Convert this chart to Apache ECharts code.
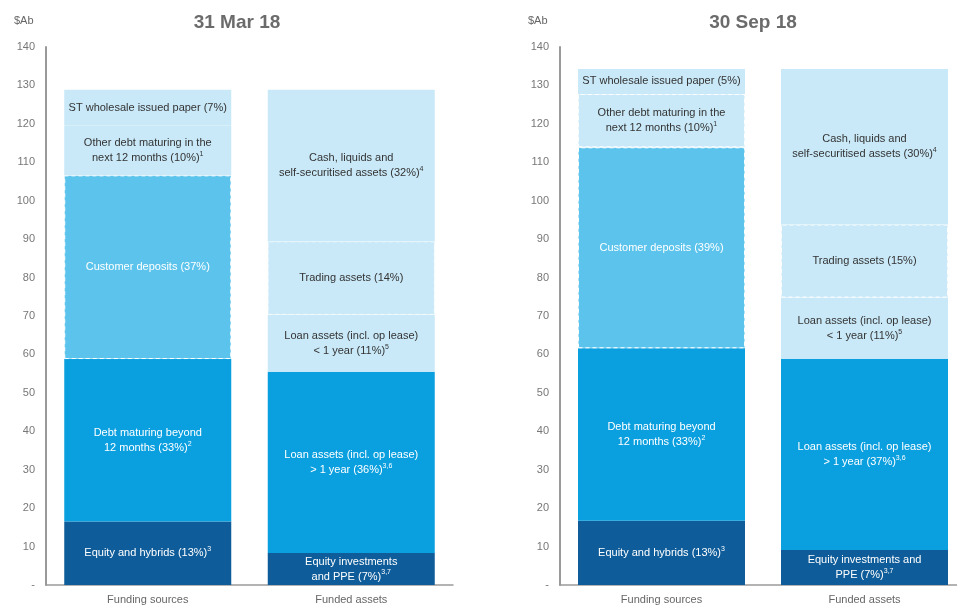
<!DOCTYPE html>
<html>
<head>
<meta charset="utf-8">
<script src="https://cdn.jsdelivr.net/npm/echarts@6/dist/echarts.min.js"></script>
<style>
  html, body { margin: 0; padding: 0; background: #fff; }
  #chart { width: 957px; height: 607px; }
</style>
</head>
<body>
<div id="chart"></div>
<script>
// categories shared by both panels
const categories = ['Funding sources', 'Funded assets']
const panelTitles = ['31 Mar 18', '30 Sep 18']

// segment values ($Ab), bottom to top
const fundingMar = [16.5, 42.3, 47.8, 13.0, 9.3]
const assetsMar = [8.3, 47.2, 14.8, 19.1, 39.5]
const fundingSep = [16.7, 44.9, 52.3, 13.9, 6.5]
const assetsSep = [9.1, 49.8, 15.9, 19.0, 40.5]

// segment labels, bottom to top ({s|..} = footnote)
const fundingLabelsMar = [
    'Equity and hybrids (13%){s|3}',
    'Debt maturing beyond\n12 months (33%){s|2}',
    'Customer deposits (37%)',
    'Other debt maturing in the\nnext 12 months (10%){s|1}',
    'ST wholesale issued paper (7%)'
]
const assetLabelsMar = [
    'Equity investments\nand PPE (7%){s|3,7}',
    'Loan assets (incl. op lease)\n> 1 year (36%){s|3,6}',
    'Loan assets (incl. op lease)\n< 1 year (11%){s|5}',
    'Trading assets (14%)',
    'Cash, liquids and\nself-securitised assets (32%){s|4}'
]
const fundingLabelsSep = [
    'Equity and hybrids (13%){s|3}',
    'Debt maturing beyond\n12 months (33%){s|2}',
    'Customer deposits (39%)',
    'Other debt maturing in the\nnext 12 months (10%){s|1}',
    'ST wholesale issued paper (5%)'
]
const assetLabelsSep = [
    'Equity investments and\nPPE (7%){s|3,7}',
    'Loan assets (incl. op lease)\n> 1 year (37%){s|3,6}',
    'Loan assets (incl. op lease)\n< 1 year (11%){s|5}',
    'Trading assets (15%)',
    'Cash, liquids and\nself-securitised assets (30%){s|4}'
]

const navy = '#0e5c99'
const mid = '#0a9fdf'
const sky = '#5cc4ec'
const pale = '#c9e9f8'
const fundingColors = [navy, mid, sky, pale, pale]
const assetColors = [navy, mid, pale, pale, pale]

// which segments draw a white dashed outline: [panel][bar][layer]
const dashed = [
    [[0, 0, 1, 0, 0], [0, 0, 0, 0.5, 0]],
    [[0, 0, 1, 1, 0], [0, 0, 0, 1, 0]]
]

const font = '"Liberation Sans", Arial, sans-serif'

function textColor(c) {
    return c === pale ? '#333' : '#fff'
}

function item(v, text, color, dash) {
    const tc = textColor(color)
    return {
        value: v,
        itemStyle: {
            color: color,
            borderColor: dash ? 'rgba(255,255,255,' + dash + ')' : color,
            borderWidth: dash ? 1 : 0,
            borderType: [4, 3]
        },
        label: {
            formatter: text,
            color: tc,
            rich: {
                s: { fontSize: 7, color: tc, verticalAlign: 'top', lineHeight: 14, fontFamily: font }
            }
        }
    }
}

const panels = [
    [fundingMar, assetsMar, fundingLabelsMar, assetLabelsMar],
    [fundingSep, assetsSep, fundingLabelsSep, assetLabelsSep]
]

let series = []
for (let p = 0; p < 2; p++) {
    const [fv, av, fl, al] = panels[p]
    for (let k = 0; k < 5; k++) {
        series.push({
            type: 'bar',
            stack: 'p' + p,
            xAxisIndex: p,
            yAxisIndex: p,
            barWidth: 167,
            silent: true,
            label: {
                show: true,
                position: 'inside',
                fontSize: 11,
                lineHeight: 15,
                fontFamily: font,
                align: 'center'
            },
            data: [
                item(fv[k], fl[k], fundingColors[k], dashed[p][0][k]),
                item(av[k], al[k], assetColors[k], dashed[p][1][k])
            ]
        })
    }
}

function xAxis(i) {
    return {
        type: 'category',
        gridIndex: i,
        data: categories,
        axisLine: { lineStyle: { color: '#9a9a9a', width: 1.5 } },
        axisTick: { show: false },
        axisLabel: { color: '#666', fontSize: 11, margin: 9, fontFamily: font }
    }
}
function yAxis(i) {
    return {
        type: 'value',
        gridIndex: i,
        min: 0,
        max: 140,
        interval: 10,
        axisLine: { show: true, lineStyle: { color: '#9a9a9a', width: 2 } },
        axisTick: { show: false },
        splitLine: { show: false },
        axisLabel: {
            color: '#777',
            fontSize: 11,
            margin: 11,
            fontFamily: font,
            formatter: function (v) { return v === 0 ? '-' : v }
        }
    }
}

const option = {
    animation: false,
    backgroundColor: '#fff',
    title: [
        { text: panelTitles[0], left: 232, top: 8, textAlign: 'center',
          textStyle: { fontSize: 19, fontWeight: 'bold', color: '#6b6b6b', fontFamily: font } },
        { text: panelTitles[1], left: 748, top: 8, textAlign: 'center',
          textStyle: { fontSize: 19, fontWeight: 'bold', color: '#6b6b6b', fontFamily: font } },
        { text: '$Ab', left: 9, top: 10, textStyle: { fontSize: 11, fontWeight: 'normal', color: '#666', fontFamily: font } },
        { text: '$Ab', left: 523, top: 10, textStyle: { fontSize: 11, fontWeight: 'normal', color: '#666', fontFamily: font } }
    ],
    grid: [
        { left: 46, top: 47, width: 407, height: 538, outerBoundsMode: 'none' },
        { left: 560, top: 47, width: 406, height: 538, outerBoundsMode: 'none' }
    ],
    xAxis: [xAxis(0), xAxis(1)],
    yAxis: [yAxis(0), yAxis(1)],
    series: series
}

const myChart = echarts.init(document.getElementById('chart'))
myChart.setOption(option, true)
</script>
</body>
</html>
